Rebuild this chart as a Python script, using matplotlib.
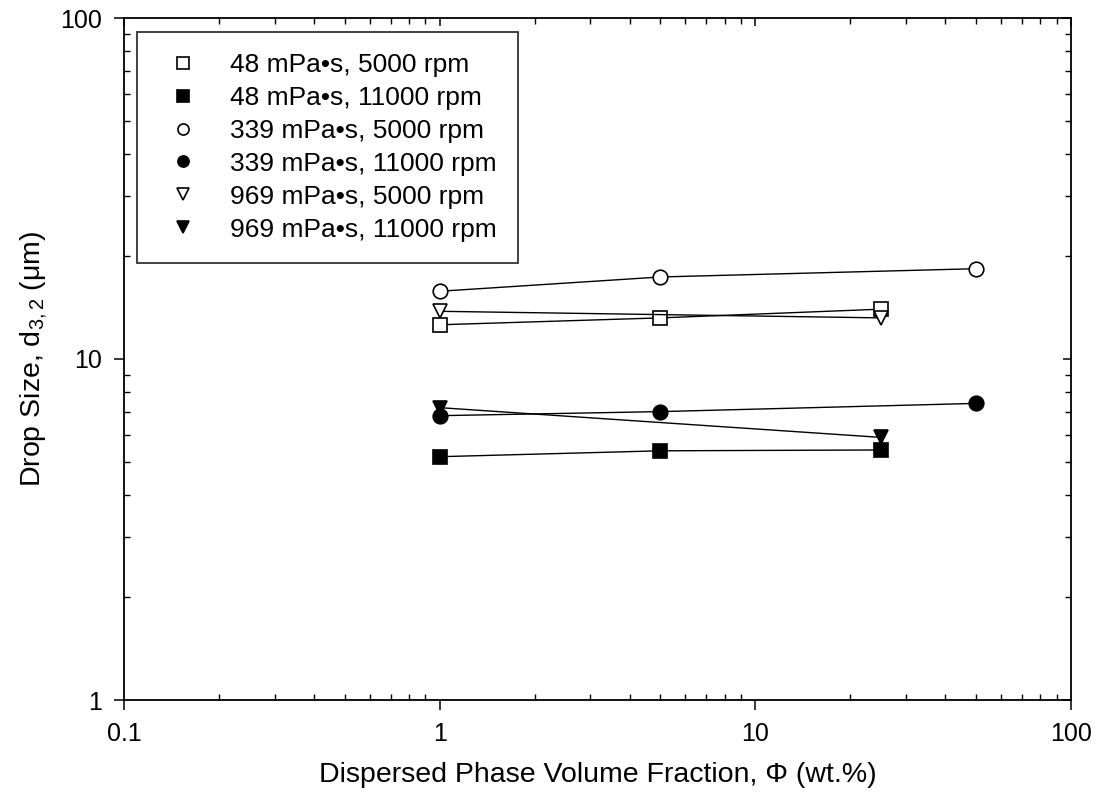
import matplotlib
matplotlib.use("Agg")
import matplotlib.pyplot as plt
from matplotlib.ticker import LogLocator, NullFormatter, FixedLocator, FixedFormatter

plt.rcParams['font.family'] = ['Liberation Sans', 'DejaVu Sans']
plt.rcParams['mathtext.fontset'] = 'custom'
plt.rcParams['mathtext.rm'] = 'Liberation Sans'
plt.rcParams['mathtext.it'] = 'Liberation Sans'

labels = ["48 mPa•s, 5000 rpm", "48 mPa•s, 11000 rpm",
          "339 mPa•s, 5000 rpm", "339 mPa•s, 11000 rpm",
          "969 mPa•s, 5000 rpm", "969 mPa•s, 11000 rpm"]
x_48_5000 = [1, 5, 25]
y_48_5000 = [12.6, 13.2, 14.0]
x_48_11000 = [1, 5, 25]
y_48_11000 = [5.17, 5.38, 5.41]
x_339_5000 = [1, 5, 50]
y_339_5000 = [15.8, 17.4, 18.4]
x_339_11000 = [1, 5, 50]
y_339_11000 = [6.82, 7.01, 7.41]
x_969_5000 = [1, 25]
y_969_5000 = [13.8, 13.2]
x_969_11000 = [1, 25]
y_969_11000 = [7.20, 5.89]

x_ticks = [0.1, 1, 10, 100]
x_ticklabels = ['0.1', '1', '10', '100']
y_ticks = [1, 10, 100]
y_ticklabels = ['1', '10', '100']

series = [
    (x_48_5000, y_48_5000, 's', 'white'),
    (x_48_11000, y_48_11000, 's', 'black'),
    (x_339_5000, y_339_5000, 'o', 'white'),
    (x_339_11000, y_339_11000, 'o', 'black'),
    (x_969_5000, y_969_5000, 'v', 'white'),
    (x_969_11000, y_969_11000, 'v', 'black'),
]

fig = plt.figure(figsize=(11.03, 7.96), dpi=100)
ax = fig.add_axes([124/1103, 1-700/796, (1071-124)/1103, (700-18)/796])

for (xs, ys, m, fc), lab in zip(series, labels):
    ax.plot(xs, ys, color='black', lw=1.0, marker=m, markersize=10.5,
            markerfacecolor=fc, markeredgecolor='black', markeredgewidth=1.2,
            label=lab)

def setup_log(a):
    a.set_xscale('log')
    a.set_yscale('log')
    a.set_xlim(0.1, 100)
    a.set_ylim(1, 100)
    a.xaxis.set_major_locator(FixedLocator(x_ticks))
    a.xaxis.set_major_formatter(FixedFormatter(x_ticklabels))
    a.yaxis.set_major_locator(FixedLocator(y_ticks))
    a.yaxis.set_major_formatter(FixedFormatter(y_ticklabels))
    a.xaxis.set_minor_locator(LogLocator(base=10, subs=range(2, 10)))
    a.yaxis.set_minor_locator(LogLocator(base=10, subs=range(2, 10)))
    a.xaxis.set_minor_formatter(NullFormatter())
    a.yaxis.set_minor_formatter(NullFormatter())

setup_log(ax)
ax.tick_params(which='major', direction='out', length=7, width=1.1,
               labelsize=18, pad=9)
ax.tick_params(which='minor', direction='in', length=4.5, width=1.0)
for s in ax.spines.values():
    s.set_linewidth(1.3)

# top/right ticks (inward) via an overlay axes
ax2 = fig.add_axes(ax.get_position(), frameon=False)
setup_log(ax2)
ax2.patch.set_visible(False)
ax2.tick_params(which='both', direction='in', bottom=False, left=False,
                top=True, right=True, labelbottom=False, labelleft=False)
ax2.tick_params(which='major', length=6, width=1.1)
ax2.tick_params(which='minor', length=4.5, width=1.0)

ax.set_xlabel("Dispersed Phase Volume Fraction, Φ (wt.%)", fontsize=20.5, labelpad=11)
ax.set_ylabel("Drop Size, d$_{3,2}$ (μm)", fontsize=20.5, labelpad=8)

leg = ax.legend(loc='upper left',
                bbox_to_anchor=((137-124)/947, 1-(31.7-18)/682),
                fontsize=19, frameon=True, fancybox=False, edgecolor='black',
                borderpad=0.8, labelspacing=0.34, handlelength=1.9,
                handletextpad=0.83, borderaxespad=0)
leg.get_frame().set_linewidth(1.3)
for h in leg.legend_handles:
    h.set_linestyle('None')
    h.set_markersize(8)

fig.savefig("out.png", dpi=100)
